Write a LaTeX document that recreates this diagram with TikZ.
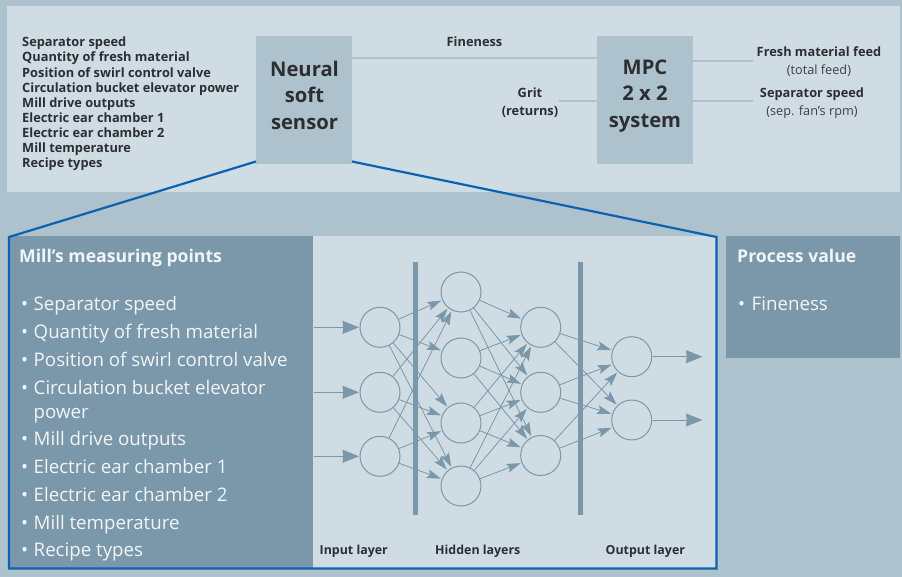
\documentclass[tikz,border=0pt]{standalone}
\usepackage{fontspec}
\setmainfont{Open Sans}
\usetikzlibrary{arrows.meta}
\definecolor{bgc}{HTML}{AEC2CE}
\definecolor{panelc}{HTML}{CFDCE4}
\definecolor{darkc}{HTML}{7A98A9}
\definecolor{bluec}{HTML}{0A62B0}
\definecolor{txtc}{HTML}{2C2E31}
\definecolor{subc}{HTML}{3C4144}
\definecolor{whc}{HTML}{F2F5F7}
\tikzset{
  x=1pt,y=-1pt,
  neuron/.style={circle,draw=darkc,line width=1pt,minimum size=40pt,inner sep=0pt},
  edgearrow/.style={draw=darkc,line width=0.8pt,-{Stealth[length=14pt,width=9pt,inset=2.5pt]},shorten >=1pt},
  bigarrow/.style={draw=darkc,line width=1pt,-{Stealth[length=16.5pt,width=13pt,inset=0.8pt]},shorten >=0.5pt,shorten <=0.5pt},
  feed/.style={draw=bgc,line width=2.4pt},
  block/.style={rectangle,fill=bgc,minimum width=96pt,minimum height=128pt,inner sep=0pt},
  blocktext/.style={text=txtc,align=center,font=\bfseries\fontsize{20.2}{26.5}\selectfont},
  small/.style={text=txtc,inner sep=0pt,anchor=base west,font=\bfseries\fontsize{12.8}{15}\selectfont},
  smallc/.style={text=txtc,inner sep=0pt,anchor=base,font=\bfseries\fontsize{12.8}{15}\selectfont},
  subt/.style={text=subc,inner sep=0pt,anchor=base,font=\fontsize{12.7}{15}\selectfont},
  head/.style={text=whc,inner sep=0pt,anchor=base west,font=\bfseries\fontsize{17.6}{21}\selectfont},
  item/.style={text=whc,inner sep=0pt,anchor=base west,font=\fontsize{18.7}{24}\selectfont},
  layer/.style={text=txtc,inner sep=0pt,anchor=base west,font=\bfseries\fontsize{12.4}{15}\selectfont},
  bar/.style={fill=darkc,draw=none},
}
\begin{document}
\begin{tikzpicture}
\useasboundingbox (0,0) rectangle (902,577);
\fill[bgc] (0,0) rectangle (902,577);
\fill[panelc] (7,6) rectangle (900,192);
\fill[panelc] (8,236) rectangle (717,568);
\fill[darkc] (8,236) rectangle (313,568);
\fill[darkc] (726,236) rectangle (900,358);

% blocks
\node[block] (sensor) at (304,100) {};
\node[block] (mpc) at (645,100) {};
\node[blocktext] (sensorT) at (304.5,95) {Neural\\soft\\sensor};
\node[blocktext] (mpcT) at (645,96) {MPC\\2 x 2\\system};

\coordinate (gritend) at (559,101);
\coordinate (fmfend) at (753,61);
\coordinate (sepend) at (753,101);
\draw[feed] (sensor.east |- 0,58) -- (mpc.west |- 0,58);
\draw[feed] (gritend) -- (mpc.west |- gritend);
\draw[feed] (mpc.east |- fmfend) -- (fmfend);
\draw[feed] (mpc.east |- sepend) -- (sepend);

% blue zoom outline
\coordinate (zl) at (256,161.5);
\coordinate (zr) at (352,161.5);
\draw[bluec,line width=2.2pt,line join=miter] (zl) -- (9,237) -- (9,568.5) -- (716.5,568.5) -- (716.5,237) -- (zr);

% top left list
\foreach \i/\yy/\t in {1/46.8/Separator speed,2/61.8/Quantity of fresh material,3/77.6/Position of swirl control valve,4/92.7/Circulation bucket elevator power,5/107.7/Mill drive outputs,6/122.7/Electric ear chamber 1,7/137.7/Electric ear chamber 2,8/152.7/Mill temperature,9/167.7/Recipe types}
  \node[small] (top\i) at (22,\yy) {\t};

\node[smallc] (fin) at (474.5,46.5) {Fineness};
\node[smallc] (grit) at (530,97.7) {Grit};
\node[smallc] (ret) at (530,115.7) {(returns)};
\node[smallc] (fmf) at (819,56.7) {Fresh material feed};
\node[subt] (tf) at (819,74.5) {(total feed)};
\node[smallc] (sep) at (812,97.7) {Separator speed};
\node[subt] (sf) at (812,115.5) {(sep. fan’s rpm)};

% headings and lists
\node[head] (h1) at (19,262.6) {Mill’s measuring points};
\node[head] (h2) at (737,262.6) {Process value};
\foreach \i/\yy/\t in {1/310/Separator speed,2/338/Quantity of fresh material,3/366/Position of swirl control valve,4/394/Circulation bucket elevator,6/445/Mill drive outputs,7/473/Electric ear chamber 1,8/501/Electric ear chamber 2,9/529/Mill temperature,10/556/Recipe types}{
  \node[item,anchor=base west] (b\i) at (21,\yy) {•};
  \node[item] (m\i) at (33.5,\yy) {\t};
}
\node[item] (m5) at (33.5,418) {power};
\node[item] (b11) at (738,310) {•};
\node[item] (pv) at (751.5,310) {Fineness};

% network
\node[neuron] (i1) at (380,327.3) {};
\node[neuron] (i2) at (380,392.3) {};
\node[neuron] (i3) at (380,456.3) {};
\node[neuron] (a1) at (461,292) {};
\node[neuron] (a2) at (461,358) {};
\node[neuron] (a3) at (461,423) {};
\node[neuron] (a4) at (461,486) {};
\node[neuron] (c1) at (540.7,327.3) {};
\node[neuron] (c2) at (540.7,392.3) {};
\node[neuron] (c3) at (540.7,455.5) {};
\node[neuron] (o1) at (631.7,356.7) {};
\node[neuron] (o2) at (631.7,420) {};

\foreach \s/\d in {i1/a1,i1/a2,i1/a3,i1/a4,i2/a1,i2/a3,i2/a4,i3/a1,i3/a3,i3/a4,
  a1/c1,a1/c2,a1/c3,a2/c1,a2/c2,a2/c3,a3/c1,a3/c2,a3/c3,a4/c1,a4/c2,a4/c3,
  c1/o1,c1/o2,c2/o1,c2/o2,c3/o1,c3/o2}
  \draw[edgearrow] (\s) -- (\d);

\coordinate (in1) at (313,327.3);
\coordinate (in2) at (313,392.3);
\coordinate (in3) at (313,456.3);
\coordinate (out1) at (703,356.7);
\coordinate (out2) at (703,420);
\draw[bigarrow] (in1) -- (i1);
\draw[bigarrow] (in2) -- (i2);
\draw[bigarrow] (in3) -- (i3);
\draw[bigarrow] (o1) -- (out1);
\draw[bigarrow] (o2) -- (out2);

\fill[bar] (413,262) rectangle (418.3,515);
\fill[bar] (577.8,262) rectangle (583,515);

\node[layer] (l1) at (319.5,554) {Input layer};
\node[layer] (l2) at (435,554) {Hidden layers};
\node[layer] (l3) at (605.5,554) {Output layer};
\end{tikzpicture}
\end{document}
